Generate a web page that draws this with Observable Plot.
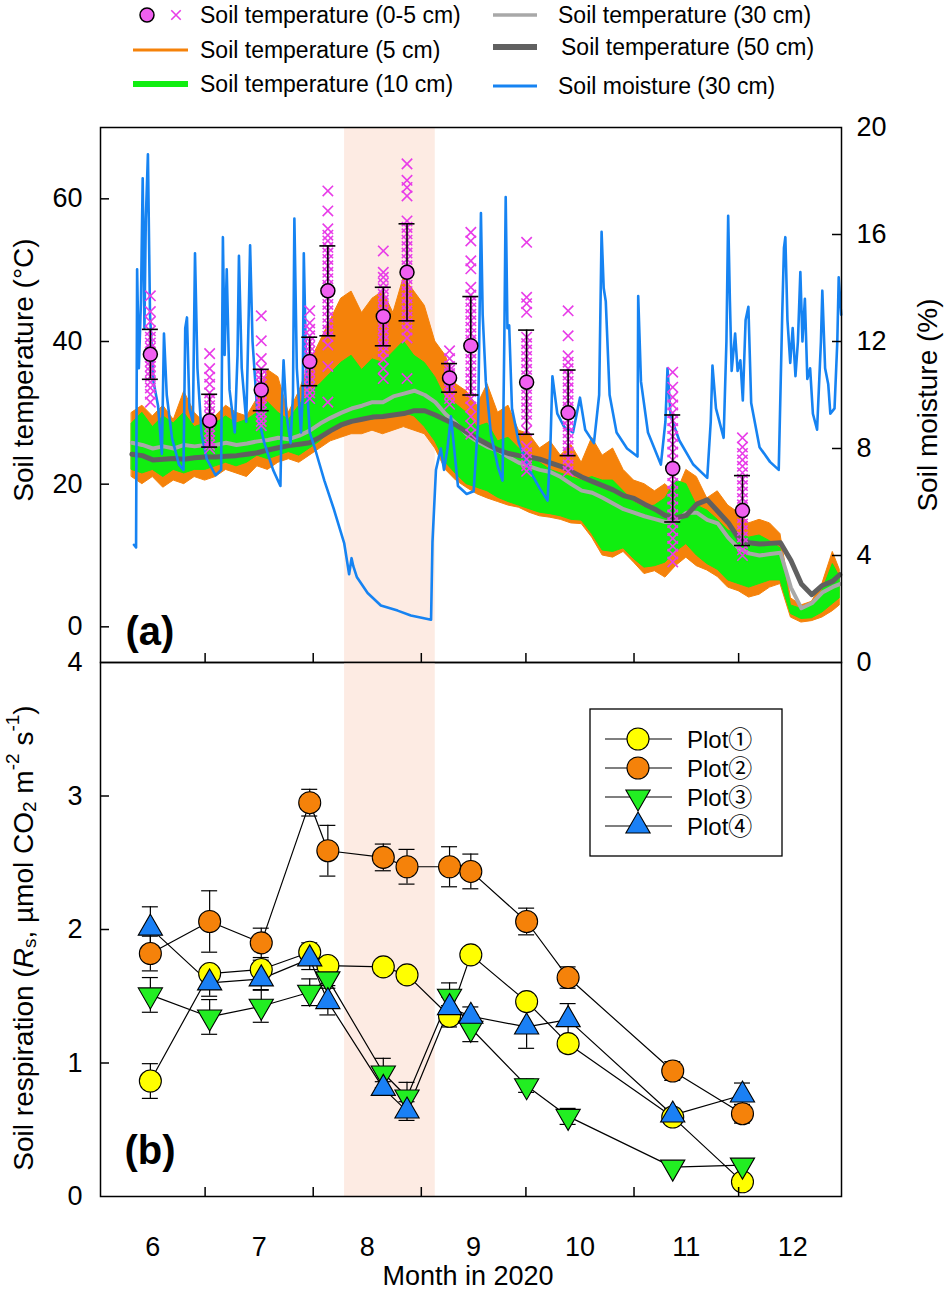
<!DOCTYPE html>
<html><head><meta charset="utf-8">
<script src="https://cdn.jsdelivr.net/npm/d3@7"></script>
<script src="https://cdn.jsdelivr.net/npm/@observablehq/plot@0.6"></script>
<style>
body{margin:0;background:#fff;}
#root{position:relative;width:944px;height:1290px;background:#fff;font-family:"Liberation Sans",Arial,sans-serif;overflow:hidden;}
#pa,#pb{position:absolute;left:0;}
#ov{position:absolute;left:0;top:0;pointer-events:none;}
</style></head>
<body><div id="root"><div id="pa"></div><div id="pb"></div><svg id="ov" width="944" height="1290"></svg></div>
<script>
// ---------------- DATA (days counted from 1 June 2020) ----------------
const monthStartDays = [0, 30, 61, 92, 122, 153, 183, 213];
const monthMidDays = [15, 45.5, 76.5, 107, 137.5, 168, 198.5];
const monthLabels = ["6", "7", "8", "9", "10", "11", "12"];
const dryPeriod = [70, 96];
const tempTicks = [0, 20, 40, 60];
const moistTicks = [0, 4, 8, 12, 16, 20];
const respTicks = [0, 1, 2, 3, 4];

const seriesDays = [9,12,15,18,21,24,27,30,
  33,36,39,42,45,48,51,54,57,60,
  63,66,69,72,75,78,81,84,87,90,
  93,96,99,102,105,108,111,114,117,120,
  123,126,129,132,135,138,141,144,147,150,
  153,156,159,162,165,168,171,174,177,180,
  183,186,189,192,195,198,201,204,207,210,
  212];
const t5max = [30,31,29.5,31,29,33,30,28.5,
  29.5,31,30,29.5,32,36,35,30,33,37,
  40,43,46,47,44,46,47,44,49,47,
  45,40,38,34,33,31,34,30,31,27.5,
  27,25,26,24,25.5,23,26.5,24,25,22,
  20.5,20,19,20,18.5,22,21,18,19,17,
  16,14.5,15,14.5,13,4,3,3.5,6,10.5,
  8];
const t5min = [21,20,21,19.5,20.5,20,21,20.5,
  21,22,21.5,21,22.5,22,23,23.5,23,24,
  25,26,26.5,27,27,27.5,27,27.5,28,27.5,
  27,25,22,20.5,19.5,18.6,18,17.5,17,16.7,
  16,15.5,15.3,15,14.5,14.4,12.5,10,9.7,10.5,
  9,7.4,7.8,6.9,8.5,9.7,8.5,7.9,7,5.5,
  5,4.1,4.5,5.5,6,1.3,0.6,0.8,1.3,2.2,
  3];
const t10max = [28.5,30,28,29.5,28.5,30,28,28.5,
  28.5,29.5,28.5,29,30,31.5,30,29,31,33,
  34,35.5,37,38,36,37.5,37,38.5,40,38,
  37,35,32,31.2,30,28,28.5,26,26.5,25,
  24,23,22,21.5,21,20.5,21,20.5,20.5,19,
  17.5,16.7,17,18,20.5,20,17,16.3,15,13.5,
  13,12.5,12.8,12,11,3,2.5,3,5,8.8,
  7];
const t10min = [22,21.5,22,21,22,21.5,22,22,
  22.5,23,22.5,23,24,23.5,24,24.5,24,25,
  26,27.5,28,28.5,29,29,29.5,30,30,29.5,
  28,26,23,21.4,20,19.5,19,18.1,17.5,17,
  16.5,16,15.8,15.5,15,14.9,13,10.7,10.5,11,
  9.5,8.3,8.5,9,10.5,11.6,10,8.8,8,6.5,
  6,5.5,6,6.5,6.5,1.8,1.1,1.2,2,3.2,
  4];
const t30 = [25.8,25.5,25,25.3,25,25.5,25.3,25.5,
  25.5,25.8,25.5,25.7,26,26.2,26.5,26.3,26.8,27.5,
  28.5,29.3,30,30.6,31,31.5,31.5,32.3,32.7,33.1,
  32.5,31.5,29.8,28.5,27,26,25.2,24.7,23.8,23,
  22.5,22,21.7,21,20,19.1,18.8,18.1,17.3,16.5,
  16,15.5,15.1,14.7,14.8,16,16,15,14.5,12.5,
  11,10.3,10,10.2,10.4,5.5,2.6,3.3,4.8,5.6,
  6];
const t50 = [24.2,24,23.4,23.5,23.6,23.5,23.7,23.8,
  23.8,23.9,24,24.2,24.4,24.8,25.1,25.4,25.6,25.8,
  26.6,27.5,28.3,28.8,29.1,29.4,29.5,29.7,29.9,30.3,
  30.3,29.7,29,28.3,27.3,26.4,25.6,24.8,24.3,24,
  23.8,23.5,23,22.5,21.8,21,20.4,19.8,19.2,18.4,
  18,17.2,16.5,15.6,15.3,15.6,17.2,17.8,16.2,14.6,
  12.4,11.8,11.6,11.7,11.8,9.3,6,4.5,5.8,6.4,
  7.3];

const moistDay = [9.6,10.2,10.5,11.0,11.6,12.1,12.6,13.0,13.6,14.2,15.2,16.5,17.6,18.2,19.0,20.5,22.5,23.8,24.3,24.8,
  25.5,26.5,27.1,27.8,29.0,30.5,33.0,34.6,35.1,35.6,36.2,37.0,38.5,39.3,39.7,40.5,41.8,42.5,42.9,43.6,
  45.0,47.0,49.5,51.6,52.0,52.5,53.3,54.5,55.2,55.6,56.3,57.5,58.0,58.3,59.0,60.0,61.5,64.2,67.0,69.9,
  71.3,72.0,72.5,73.5,76.6,80.4,85.2,89.0,94.8,95.2,96.2,97.6,98.5,99.5,100.5,102.5,105.0,107.0,108.3,109.1,
  109.6,110.5,112.0,114.0,115.3,115.8,116.2,116.7,117.2,118.0,120.0,123.0,126.0,128.2,129.0,129.6,131.0,133.0,135.5,137.5,
  139.0,141.5,143.0,143.7,144.3,144.9,146.0,148.0,151.0,154.0,154.2,155.0,157.0,160.7,162.0,162.6,163.5,166.0,170.0,174.0,
  175.0,175.5,176.5,178.7,179.5,180.0,180.5,181.0,182.0,182.7,183.5,184.2,185.0,185.8,186.6,189.0,192.0,194.5,195.5,196.0,
  196.4,197.0,197.8,198.5,199.3,200.0,200.7,201.3,202.0,202.7,203.5,204.3,205.5,206.6,207.0,207.8,208.7,209.3,210.5,211.3,
  211.7,212.4];
const moistVal = [4.4,4.3,14.7,11.0,13.5,18.1,12.5,16.6,19.0,13.0,10.5,9.6,7.8,12.3,10.0,8.4,7.4,7.2,12.5,12.9,
  9.5,9.0,15.3,11.0,8.5,7.6,7.0,7.2,15.9,11.5,14.7,10.2,8.6,11.5,15.2,11.0,9.0,13.0,15.6,12.0,
  9.3,8.2,7.2,6.6,9.5,11.3,9.3,8.2,10.0,16.6,11.0,8.6,10.0,15.3,10.8,8.6,8.0,6.8,5.7,4.45,
  3.3,3.9,3.6,3.2,2.6,2.13,1.94,1.76,1.6,4.5,7.2,8.0,7.2,8.0,9.2,6.6,6.3,6.4,9.0,16.8,
  13.0,10.5,8.5,7.3,6.8,12.0,17.4,12.5,12.6,9.5,8.2,7.2,6.5,6.05,8.0,10.7,9.3,8.8,8.6,9.9,
  8.7,8.2,10.0,16.1,14.0,13.5,10.0,8.6,8.0,7.7,13.7,10.5,8.6,7.4,9.0,11.0,9.2,8.3,7.4,6.9,
  9.0,11.1,9.5,8.4,12.0,16.7,13.5,10.9,12.3,10.9,11.3,9.8,12.8,13.3,9.7,8.05,7.5,7.2,13.0,15.5,
  15.9,12.8,11.2,12.5,10.7,12.0,14.6,12.0,13.6,10.6,11.0,9.3,8.7,12.0,13.9,11.0,10.4,9.3,9.5,12.0,
  14.4,13.0];

// sampling campaigns
const sampleDay = [14.3, 31.3, 46.1, 60.0, 65.2, 81.1, 87.9, 100.1, 106.2, 122.2, 134.1, 164.1, 184.1];
const surfMean = [38.2, 28.9, 33.2, 37.2, 47.1, 43.5, 49.7, 34.9, 39.4, 34.3, 30.0, 22.2, 16.3];
const surfSD = [3.5, 3.7, 2.9, 3.4, 6.3, 4.1, 6.8, 2.0, 6.9, 7.3, 6.0, 7.5, 4.9];
const surfObs = [
  [46.4,44.2,42.8,41.5,40.6,39.8,39.1,38.5,37.8,37.2,36.5,35.8,35.1,34.3,33.5,32.6,31.5],
  [38.3,36.2,35.0,34.0,32.8,31.9,31.0,30.2,29.5,28.8,28.1,27.4,26.8,26.1,25.5,25.0],
  [43.6,40.1,37.6,36.2,35.3,34.6,34.0,33.4,32.8,32.1,31.4,30.8,30.1,29.5,28.8,28.2],
  [44.3,42.6,41.7,40.8,40.0,39.3,38.6,37.9,37.2,36.5,35.8,35.0,34.3,33.6,32.8,32.0],
  [61.1,58.3,55.8,54.9,54.1,53.2,52.4,51.5,50.6,49.7,48.8,47.9,47.0,46.1,45.2,44.3,43.4,42.5,41.6,40.7,39.5,36.5,31.5],
  [52.7,49.7,49.0,48.2,47.4,46.6,45.8,45.0,44.2,43.4,42.6,41.8,41.0,40.2,39.4,38.6,37.5,36.2,34.8],
  [64.9,62.6,61.6,60.4,56.9,56.0,55.1,54.2,53.3,52.4,51.5,50.6,49.7,48.8,47.9,47.0,46.1,45.2,44.3,43.4,42.5,41.6,40.5,34.8],
  [38.7,37.6,36.5,36.0,35.5,35.0,34.5,34.0,33.4,32.7,32.0,31.2],
  [55.3,54.1,51.3,50.2,47.6,46.5,45.6,44.7,43.8,42.9,42.0,41.1,40.2,39.3,38.4,37.5,36.6,35.7,34.8,33.9,33.0,32.0,30.8,29.5,28.2,27.0],
  [53.9,46.2,45.3,44.1,40.6,39.7,38.8,37.9,37.0,36.1,35.2,34.3,33.4,32.5,31.6,30.7,29.8,28.9,27.5,25.3,24.4,23.5,22.6,21.8],
  [44.3,40.8,38.0,37.1,36.2,35.3,34.4,33.5,32.6,31.7,30.8,29.9,29.0,28.1,27.2,26.3,25.4,24.5,23.6,22.7,21.8],
  [35.7,33.6,32.2,31.1,30.0,28.9,27.8,26.7,25.6,24.5,23.4,22.3,21.2,20.1,19.0,17.9,16.8,15.7,14.6,13.5,12.4,11.3,10.2,9.1],
  [26.5,25.2,24.3,23.4,22.5,21.6,20.7,19.8,18.9,18.0,17.1,16.2,15.3,14.4,13.5,12.6,11.7,10.8,10.0]
];

// soil respiration (µmol CO2 m-2 s-1)
const plotNames = ["Plot\u2460", "Plot\u2461", "Plot\u2462", "Plot\u2463"];
const resp1 = [0.865, 1.67, 1.70, 1.83, 1.73, 1.72, 1.66, 1.35, 1.81, 1.46, 1.145, 0.595, 0.11];
const err1  = [0.13, 0.05, 0.07, 0.07, 0.03, 0, 0, 0.08, 0, 0.05, 0.06, 0.05, 0];
const resp2 = [1.82, 2.06, 1.90, 2.95, 2.59, 2.54, 2.47, 2.47, 2.435, 2.06, 1.64, 0.94, 0.62];
const err2  = [0.13, 0.23, 0.11, 0.10, 0.19, 0.10, 0.13, 0.15, 0.13, 0.10, 0.08, 0.07, 0.07];
const resp3 = [1.51, 1.345, 1.425, 1.53, 1.63, 0.925, 0.745, 1.50, 1.26, 0.83, 0.60, 0.22, 0.235];
const err3  = [0.13, 0.13, 0.12, 0.10, 0.05, 0.11, 0.11, 0.10, 0.10, 0.05, 0.06, 0, 0];
const resp4 = [2.01, 1.60, 1.63, 1.78, 1.46, 0.81, 0.64, 1.415, 1.35, 1.27, 1.325, 0.61, 0.76];
const err4  = [0.16, 0.10, 0.08, 0.08, 0.10, 0.05, 0.07, 0.08, 0.07, 0.16, 0.12, 0.05, 0.09];

const legendLabels = ["Soil temperature (0-5 cm)", "Soil temperature (5 cm)", "Soil temperature (10 cm)",
  "Soil temperature (30 cm)", "Soil temperature (50 cm)", "Soil moisture (30 cm)"];

// ---------------- STYLE ----------------
const ORANGE = "#f5820a", GREEN = "#10ee10", GRAY30 = "#a8a8a8", GRAY50 = "#606060",
      BLUE = "#1683f2", MAG = "#e83ce8", MAGFILL = "#f060f0", SHADE = "#fdebe3";
const FONT = "'Liberation Sans', Arial, sans-serif";
const TICKFS = 27, TITLEFS = 28;
const W = 944, ML = 100, MR = 103;
const plotW = W - ML - MR;
const xDomain = [0, 212.5];
const pxPerDay = plotW / (xDomain[1] - xDomain[0]);
const capHalf = 8 / pxPerDay;
const tDomain = [-5, 70];
const toT = m => tDomain[0] + m * (tDomain[1] - tDomain[0]) / 20;

const sqrt3 = Math.sqrt(3);
const triDown = {draw(ctx, size) {
  const y = -Math.sqrt(size / (sqrt3 * 3));
  ctx.moveTo(0, -y * 2); ctx.lineTo(-sqrt3 * y, y); ctx.lineTo(sqrt3 * y, y); ctx.closePath();
}};

// ---------------- TABLES ----------------
const tempRows = seriesDays.map((d, i) => ({day: d, t5min: t5min[i], t5max: t5max[i], t10min: t10min[i], t10max: t10max[i], t30: t30[i], t50: t50[i]}));
const moistRows = moistDay.map((d, i) => ({day: d, m: moistVal[i]}));
const samples = sampleDay.map((d, i) => ({day: d, mean: surfMean[i], sd: surfSD[i]}));
const obs = sampleDay.flatMap((d, i) => surfObs[i].map(v => ({day: d, v})));
const respSeries = [resp1, resp2, resp3, resp4], errSeries = [err1, err2, err3, err4];
const plotStyle = [
  {fill: "#ffff00", symbol: "circle", r: 11},
  {fill: "#f5820a", symbol: "circle", r: 11},
  {fill: "#22ee22", symbol: triDown, r: 9},
  {fill: "#1a80f5", symbol: "triangle", r: 9}
];
const respRows = respSeries.flatMap((s, k) => s.map((v, i) => ({plot: plotNames[k], k, day: sampleDay[i], v, e: errSeries[k][i]})));
const respErr = respRows.filter(d => d.e > 0);

// ---------------- PANEL A ----------------
const MTA = 20, MBA = 20, plotHA = 535, HA = MTA + plotHA + MBA;
const panelA = Plot.plot({
  width: W, height: HA, marginTop: MTA, marginBottom: MBA, marginLeft: ML, marginRight: MR,
  style: {background: "transparent", fontFamily: FONT, fontSize: TICKFS + "px", color: "black"},
  x: {domain: xDomain, axis: null},
  y: {domain: tDomain, axis: null},
  marks: [
    Plot.rect([dryPeriod], {x1: d => d[0], x2: d => d[1], y1: tDomain[0], y2: tDomain[1], fill: SHADE}),
    Plot.areaY(tempRows, {x: "day", y1: "t5min", y2: "t5max", fill: ORANGE, stroke: ORANGE, strokeWidth: 1}),
    Plot.areaY(tempRows, {x: "day", y1: "t10min", y2: "t10max", fill: GREEN, stroke: GREEN, strokeWidth: 1}),
    Plot.line(tempRows, {x: "day", y: "t30", stroke: GRAY30, strokeWidth: 4}),
    Plot.line(tempRows, {x: "day", y: "t50", stroke: GRAY50, strokeWidth: 5}),
    Plot.line(moistRows, {x: "day", y: d => toT(d.m), stroke: BLUE, strokeWidth: 2.6}),
    Plot.dot(obs, {x: "day", y: "v", symbol: "times", r: 4.8, stroke: MAG, strokeWidth: 1.6}),
    Plot.ruleX(samples, {x: "day", y1: d => d.mean - d.sd, y2: d => d.mean + d.sd, stroke: "black", strokeWidth: 1.6}),
    Plot.ruleY(samples, {y: d => d.mean - d.sd, x1: d => d.day - capHalf, x2: d => d.day + capHalf, stroke: "black", strokeWidth: 1.6}),
    Plot.ruleY(samples, {y: d => d.mean + d.sd, x1: d => d.day - capHalf, x2: d => d.day + capHalf, stroke: "black", strokeWidth: 1.6}),
    Plot.dot(samples, {x: "day", y: "mean", r: 7, fill: MAGFILL, stroke: "black", strokeWidth: 1.5}),
    Plot.tickX(monthStartDays.slice(1, -1), {x: d => d, insetTop: plotHA - 9, stroke: "black", strokeWidth: 1.5}),
    Plot.tickY(tempTicks, {y: d => d, insetRight: plotW - 9, stroke: "black", strokeWidth: 1.5}),
    Plot.tickY(moistTicks.slice(1, -1).map(toT), {y: d => d, insetLeft: plotW - 9, stroke: "black", strokeWidth: 1.5}),
    Plot.axisY(tempTicks, {anchor: "left", tickSize: 0, tickPadding: 18, label: null, fontSize: TICKFS, tickFormat: d => String(d)}),
    Plot.axisY(moistTicks.map(toT), {anchor: "right", tickSize: 0, tickPadding: 15, label: null, fontSize: TICKFS,
      tickFormat: d => String(Math.round((d - tDomain[0]) * 20 / (tDomain[1] - tDomain[0])))}),
    Plot.text(["(a)"], {frameAnchor: "bottom-left", dx: 25, dy: -18, fontSize: 40, fontWeight: "bold", textAnchor: "start", lineAnchor: "bottom"}),
    Plot.frame({stroke: "black", strokeWidth: 1.5})
  ]
});
const pa = document.getElementById("pa");
pa.style.top = (127 - MTA) + "px";
pa.appendChild(panelA);

// ---------------- PANEL B ----------------
const MTB = 20, MBB = 94, plotHB = 534, HB = MTB + plotHB + MBB;
const markersB = plotStyle.map((s, k) => Plot.dot(respRows.filter(d => d.k === k), {
  x: "day", y: "v", symbol: s.symbol, r: s.r, fill: s.fill, stroke: "black", strokeWidth: 1.1}));
const panelB = Plot.plot({
  width: W, height: HB, marginTop: MTB, marginBottom: MBB, marginLeft: ML, marginRight: MR,
  style: {background: "transparent", fontFamily: FONT, fontSize: TICKFS + "px", color: "black"},
  x: {domain: xDomain, axis: null},
  y: {domain: [0, 4], axis: null},
  marks: [
    Plot.rect([dryPeriod], {x1: d => d[0], x2: d => d[1], y1: 0, y2: 4, fill: SHADE}),
    Plot.line(respRows, {x: "day", y: "v", z: "plot", stroke: "black", strokeWidth: 1.2}),
    Plot.ruleX(respErr, {x: "day", y1: d => d.v - d.e, y2: d => d.v + d.e, stroke: "black", strokeWidth: 1.2}),
    Plot.ruleY(respErr, {y: d => d.v - d.e, x1: d => d.day - capHalf, x2: d => d.day + capHalf, stroke: "black", strokeWidth: 1.2}),
    Plot.ruleY(respErr, {y: d => d.v + d.e, x1: d => d.day - capHalf, x2: d => d.day + capHalf, stroke: "black", strokeWidth: 1.2}),
    ...markersB,
    Plot.tickX(monthStartDays.slice(1, -1), {x: d => d, insetTop: plotHB - 9, stroke: "black", strokeWidth: 1.5}),
    Plot.tickY(respTicks.slice(1, -1), {y: d => d, insetRight: plotW - 9, stroke: "black", strokeWidth: 1.5}),
    Plot.axisY(respTicks, {anchor: "left", tickSize: 0, tickPadding: 18, label: null, fontSize: TICKFS, tickFormat: d => String(d)}),
    Plot.axisX(monthMidDays, {anchor: "bottom", tickSize: 0, tickPadding: 40, label: null, fontSize: TICKFS,
      tickFormat: d => monthLabels[monthMidDays.indexOf(d)]}),
    Plot.text(["(b)"], {frameAnchor: "bottom-left", dx: 24, dy: -33, fontSize: 40, fontWeight: "bold", textAnchor: "start", lineAnchor: "bottom"}),
    Plot.frame({stroke: "black", strokeWidth: 1.5})
  ]
});
const pb = document.getElementById("pb");
pb.style.top = (662 - MTB) + "px";
pb.appendChild(panelB);

// ---------------- TITLES & LEGENDS ----------------
const ov = d3.select("#ov").style("font-family", FONT);
ov.append("text").attr("transform", "translate(23,370) rotate(-90)").attr("text-anchor", "middle")
  .attr("dominant-baseline", "central").attr("font-size", TITLEFS).text("Soil temperature (\u00B0C)");
ov.append("text").attr("transform", "translate(927,405) rotate(-90)").attr("text-anchor", "middle")
  .attr("dominant-baseline", "central").attr("font-size", TITLEFS).text("Soil moisture (%)");
const rl = ov.append("text").attr("transform", "translate(23,938) rotate(-90)").attr("text-anchor", "middle")
  .attr("dominant-baseline", "central").attr("font-size", TITLEFS);
rl.append("tspan").text("Soil respiration (");
rl.append("tspan").attr("font-style", "italic").text("R");
rl.append("tspan").attr("font-size", 19).attr("dy", 6).text("s");
rl.append("tspan").attr("dy", -6).text(", \u00B5mol CO");
rl.append("tspan").attr("font-size", 19).attr("dy", 6).text("2");
rl.append("tspan").attr("dy", -6).text(" m");
rl.append("tspan").attr("font-size", 19).attr("dy", -11).text("-2");
rl.append("tspan").attr("dy", 11).text(" s");
rl.append("tspan").attr("font-size", 19).attr("dy", -11).text("-1");
rl.append("tspan").attr("dy", 11).text(")");
ov.append("text").attr("x", 468).attr("y", 1276).attr("text-anchor", "middle").attr("dominant-baseline", "central")
  .attr("font-size", 27).text("Month in 2020");

// top legend
const lg = ov.append("g").attr("font-size", 23);
const leftRows = [15, 50, 84], rightRows = [15, 47, 86];
lg.append("circle").attr("cx", 147).attr("cy", leftRows[0]).attr("r", 7).attr("fill", MAGFILL).attr("stroke", "black").attr("stroke-width", 1.5);
lg.append("path").attr("d", d3.symbol(d3.symbolTimes, 60)()).attr("transform", `translate(176,${leftRows[0]})`).attr("stroke", MAG).attr("stroke-width", 1.6).attr("fill", "none");
lg.append("line").attr("x1", 133).attr("x2", 188).attr("y1", leftRows[1]).attr("y2", leftRows[1]).attr("stroke", ORANGE).attr("stroke-width", 3);
lg.append("line").attr("x1", 133).attr("x2", 188).attr("y1", leftRows[2]).attr("y2", leftRows[2]).attr("stroke", GREEN).attr("stroke-width", 6);
lg.append("line").attr("x1", 493).attr("x2", 537).attr("y1", rightRows[0]).attr("y2", rightRows[0]).attr("stroke", GRAY30).attr("stroke-width", 3.5);
lg.append("line").attr("x1", 493).attr("x2", 537).attr("y1", rightRows[1]).attr("y2", rightRows[1]).attr("stroke", GRAY50).attr("stroke-width", 6);
lg.append("line").attr("x1", 493).attr("x2", 537).attr("y1", rightRows[2]).attr("y2", rightRows[2]).attr("stroke", BLUE).attr("stroke-width", 3);
[0, 1, 2].forEach(i => lg.append("text").attr("x", 200).attr("y", leftRows[i]).attr("dominant-baseline", "central").text(legendLabels[i]));
[0, 1, 2].forEach(i => lg.append("text").attr("x", i === 1 ? 561 : 558).attr("y", rightRows[i]).attr("dominant-baseline", "central").text(legendLabels[i + 3]));

// panel b legend
const lb = ov.append("g");
lb.append("rect").attr("x", 590).attr("y", 709).attr("width", 192).attr("height", 147).attr("fill", "white").attr("stroke", "black").attr("stroke-width", 1.3);
const rowsB = [739, 768, 797, 826];
plotStyle.forEach((s, k) => {
  const y = rowsB[k];
  lb.append("line").attr("x1", 605).attr("x2", 672).attr("y1", y).attr("y2", y).attr("stroke", "black").attr("stroke-width", 1.2);
  const sym = typeof s.symbol === "string" ? (s.symbol === "circle" ? d3.symbolCircle : d3.symbolTriangle) : s.symbol;
  lb.append("path").attr("d", d3.symbol(sym, Math.PI * s.r * s.r)()).attr("transform", `translate(638,${y})`)
    .attr("fill", s.fill).attr("stroke", "black").attr("stroke-width", 1.1);
  lb.append("text").attr("x", 687).attr("y", y).attr("dominant-baseline", "central").attr("font-size", 24)
    .attr("font-family", "'Liberation Sans', 'Noto Sans CJK JP', sans-serif").text(plotNames[k]);
});
</script>
</body></html>
